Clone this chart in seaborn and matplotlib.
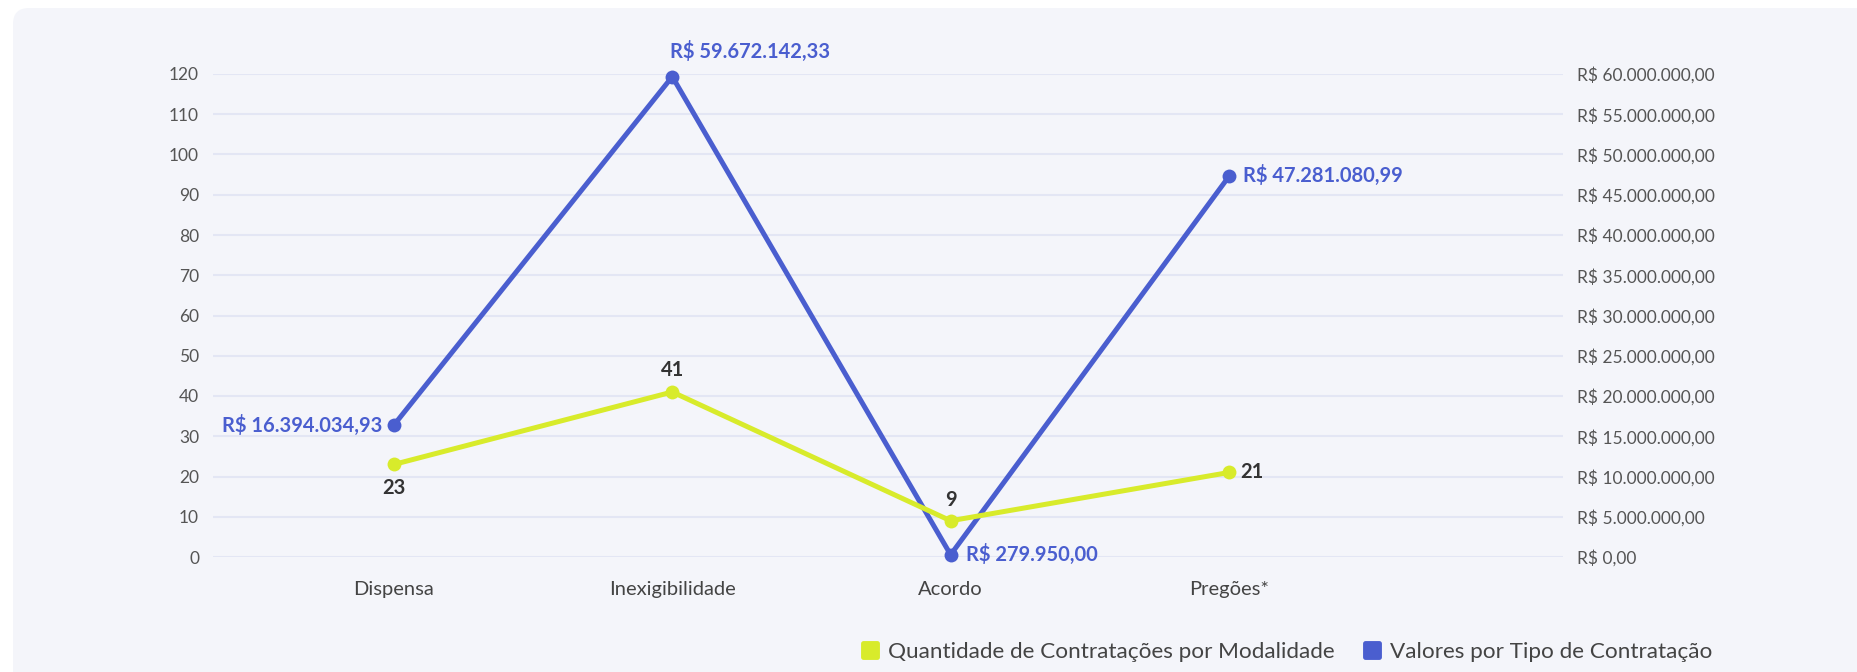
import matplotlib
matplotlib.use("Agg")
import matplotlib.pyplot as plt
from matplotlib.lines import Line2D
from matplotlib.markers import MarkerStyle
from matplotlib.patches import FancyBboxPatch
from matplotlib.transforms import IdentityTransform
import seaborn as sns

# --- data -------------------------------------------------------------
categorias = ["Dispensa", "Inexigibilidade", "Acordo", "Pregões*"]
quantidades = [23, 41, 9, 21]
valores = [16394034.93, 59672142.33, 279950.00, 47281080.99]
ticks_qtd = list(range(0, 121, 10))
ticks_valor = [v * 1_000_000 for v in range(0, 61, 5)]
serie_qtd = "Quantidade de Contratações por Modalidade"
serie_valor = "Valores por Tipo de Contratação"

# --- style ------------------------------------------------------------
AMARELO = "#d8eb2b"
AZUL = "#4a5ecf"
GRADE = "#e3e6f4"
PAINEL = "#f4f5fa"
TEXTO = "#555555"
ROTULO = "#333333"

sns.set_style("white")
plt.rcParams["font.family"] = ["Lato", "DejaVu Sans"]


def brl(v):
    s = f"{v:,.2f}"
    s = s.replace(",", "X").replace(".", ",").replace("X", ".")
    return f"R$ {s}"


W, H, DPI = 1857, 672, 100
fig = plt.figure(figsize=(W / DPI, H / DPI), dpi=DPI, facecolor="white")

# rounded background panel (pixel coordinates)
painel = FancyBboxPatch((13, -30), W + 40, H - 8 + 30,
                        boxstyle="round,pad=0,rounding_size=16",
                        transform=IdentityTransform(), facecolor=PAINEL,
                        edgecolor="none", zorder=-10)
fig.patches.append(painel)

L, R, B, T = 213 / W, 1563 / W, 1 - 557 / H, 1 - 74 / H
ax = fig.add_axes([L, B, R - L, T - B])
ax2 = ax.twinx()

# blue series on the right axis
sns.lineplot(x=categorias, y=valores, ax=ax2, color=AZUL, linewidth=3.6,
             marker="o", markersize=10, markeredgewidth=0, sort=False,
             legend=False)
# yellow series on the left axis (drawn on top)
sns.lineplot(x=categorias, y=quantidades, ax=ax, color=AMARELO, linewidth=3.6,
             marker="o", markersize=10, markeredgewidth=0, sort=False,
             legend=False)

ax2.set_zorder(1)
ax.set_zorder(2)
for a in (ax, ax2):
    a.patch.set_visible(False)
    for s in a.spines.values():
        s.set_visible(False)
    a.set_xlim(-0.65, 4.2)
    a.set_xlabel("")
    a.set_ylabel("")
    for ln in a.lines:
        ln.set_clip_on(False)

ax.set_ylim(0, 120)
ax2.set_ylim(0, 60_000_000)
ax.set_yticks(ticks_qtd)
ax2.set_yticks(ticks_valor)
ax2.set_yticklabels([brl(v) for v in ticks_valor])
ax2.grid(axis="y", color=GRADE, linewidth=1.5)
ax2.grid(axis="x", visible=False)
ax.grid(False)

ax.tick_params(axis="y", length=0, pad=10, labelsize=12.5, labelcolor=TEXTO)
ax2.tick_params(axis="y", length=0, pad=10, labelsize=12.5, labelcolor=TEXTO)
ax.tick_params(axis="x", length=0, pad=17, labelsize=14.5, labelcolor="#444444")
ax2.tick_params(axis="x", length=0, labelbottom=False)

# value labels: quantities
off_qtd = [((0, -17), "center", "center"),
           ((0, 16), "center", "center"),
           ((0, 15), "center", "center"),
           ((8, 0), "left", "center")]
for i, (q, (off, ha, va)) in enumerate(zip(quantidades, off_qtd)):
    ax.annotate(str(q), (i, q), xytext=off, textcoords="offset points",
                ha=ha, va=va, fontsize=14.5, fontweight="bold", color=ROTULO,
                zorder=5)

# value labels: amounts
off_val = [((-8, 0), "right", "center"),
           ((-2, 18), "left", "center"),
           ((11, 0), "left", "center"),
           ((10, 1), "left", "center")]
for i, (v, (off, ha, va)) in enumerate(zip(valores, off_val)):
    ax2.annotate(brl(v), (i, v), xytext=off, textcoords="offset points",
                 ha=ha, va=va, fontsize=14.5, fontweight="bold", color=AZUL,
                 zorder=5)

# legend
quadrado = MarkerStyle("s", joinstyle="round")
handles = [Line2D([], [], ls="none", marker=quadrado, markersize=10.5,
                  markerfacecolor=c, markeredgecolor=c, markeredgewidth=3.5)
           for c in (AMARELO, AZUL)]
fig.legend(handles, [serie_qtd, serie_valor], loc="center right",
           bbox_to_anchor=(1733 / W, 1 - 652 / H), ncol=2, frameon=False,
           fontsize=16.2, handlelength=1.0, handletextpad=0.3,
           columnspacing=1.2, labelcolor="#444444")

fig.savefig("out.png", dpi=DPI, facecolor="white")
